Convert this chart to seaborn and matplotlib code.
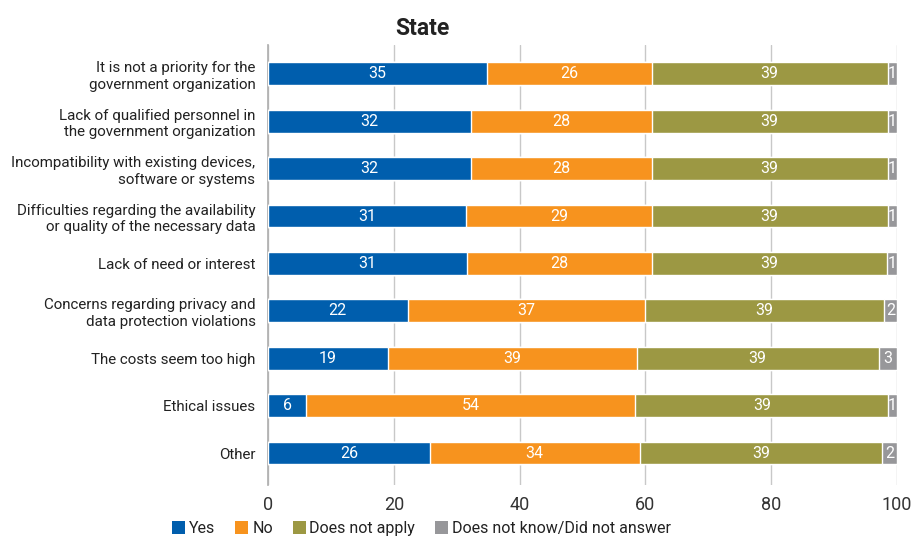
import numpy as np
import pandas as pd
import seaborn as sns
import matplotlib.pyplot as plt
from matplotlib import font_manager
from matplotlib.patches import Patch

# categories (top to bottom)
reasons = [
    "It is not a priority for the\ngovernment organization",
    "Lack of qualified personnel in\nthe government organization",
    "Incompatibility with existing devices,\nsoftware or systems",
    "Difficulties regarding the availability\nor quality of the necessary data",
    "Lack of need or interest",
    "Concerns regarding privacy and\ndata protection violations",
    "The costs seem too high",
    "Ethical issues",
    "Other",
]

# bar widths (%)
yes = [34.8, 32.2, 32.2, 31.5, 31.7, 22.2, 19.1, 6.1, 25.7]
no = [26.2, 28.8, 28.8, 29.5, 29.3, 37.7, 39.5, 52.3, 33.4]
not_apply = [37.5, 37.5, 37.5, 37.5, 37.4, 38.1, 38.5, 40.2, 38.5]
dont_know = [1.5, 1.5, 1.5, 1.5, 1.6, 2.0, 2.9, 1.4, 2.4]

# numbers printed on the bars
yes_lbl = [35, 32, 32, 31, 31, 22, 19, 6, 26]
no_lbl = [26, 28, 28, 29, 28, 37, 39, 54, 34]
not_apply_lbl = [39, 39, 39, 39, 39, 39, 39, 39, 39]
dont_know_lbl = [1, 1, 1, 1, 1, 2, 3, 1, 2]

series = ["Yes", "No", "Does not apply", "Does not know/Did not answer"]
colors = ["#005EAD", "#F7931E", "#9C9843", "#97979A"]

names = {f.name for f in font_manager.fontManager.ttflist}
main_font = "Liberation Sans Narrow" if "Liberation Sans Narrow" in names else "Roboto"

sns.set_theme(style="white")
plt.rcParams["font.family"] = [main_font, "DejaVu Sans"]

df = pd.DataFrame({"reason": reasons, "Yes": yes, "No": no,
                   "Does not apply": not_apply,
                   "Does not know/Did not answer": dont_know})
vals = df[series].to_numpy()
cum = np.cumsum(vals, axis=1)

fig = plt.figure(figsize=(9.14, 5.46), dpi=100)
ax = fig.add_axes([268 / 914, 0.112, 629 / 914, 0.805])

# draw cumulative totals from the last series backwards so they stack
for i in range(len(series) - 1, -1, -1):
    tmp = pd.DataFrame({"reason": reasons, "v": cum[:, i]})
    sns.barplot(data=tmp, x="v", y="reason", orient="h", color=colors[i],
                saturation=1, width=0.48, ax=ax, zorder=3)

labels = [yes_lbl, no_lbl, not_apply_lbl, dont_know_lbl]
for r in range(len(reasons)):
    for i in range(len(series)):
        left = cum[r, i] - vals[r, i]
        ax.text(left + vals[r, i] / 2, r, str(labels[i][r]), ha="center", va="center",
                color="white", fontsize=11.5, zorder=4)

ax.set_xlim(0, 100)
ax.set_ylim(8.67, -0.6)
ax.set_xticks([0, 20, 40, 60, 80, 100])
ax.grid(axis="x", color="#C8C8C8", linewidth=1, zorder=0)
ax.set_axisbelow(True)
for s in ["top", "right", "bottom"]:
    ax.spines[s].set_visible(False)
ax.spines["left"].set_color("#B0B0B0")
ax.tick_params(axis="x", labelsize=13, colors="#333333", length=0, pad=8)
ax.tick_params(axis="y", labelsize=10.9, colors="#222222", length=0, pad=9)
for t in ax.get_yticklabels():
    t.set_linespacing(1.25)
ax.set_xlabel("")
ax.set_ylabel("")
fig.text(422 / 914, 0.948, "State", ha="center", va="center", fontsize=16.5,
         fontweight="bold", color="#222222")

handles = [Patch(facecolor=c, edgecolor="none") for c in colors]
fig.legend(handles, series, loc="lower left", bbox_to_anchor=(158 / 914, -0.008), ncol=4,
           frameon=False, fontsize=11.5, handlelength=0.8, handleheight=0.8,
           handletextpad=0.25, columnspacing=1.25, labelcolor="#222222")

fig.savefig("out.png", dpi=100)
